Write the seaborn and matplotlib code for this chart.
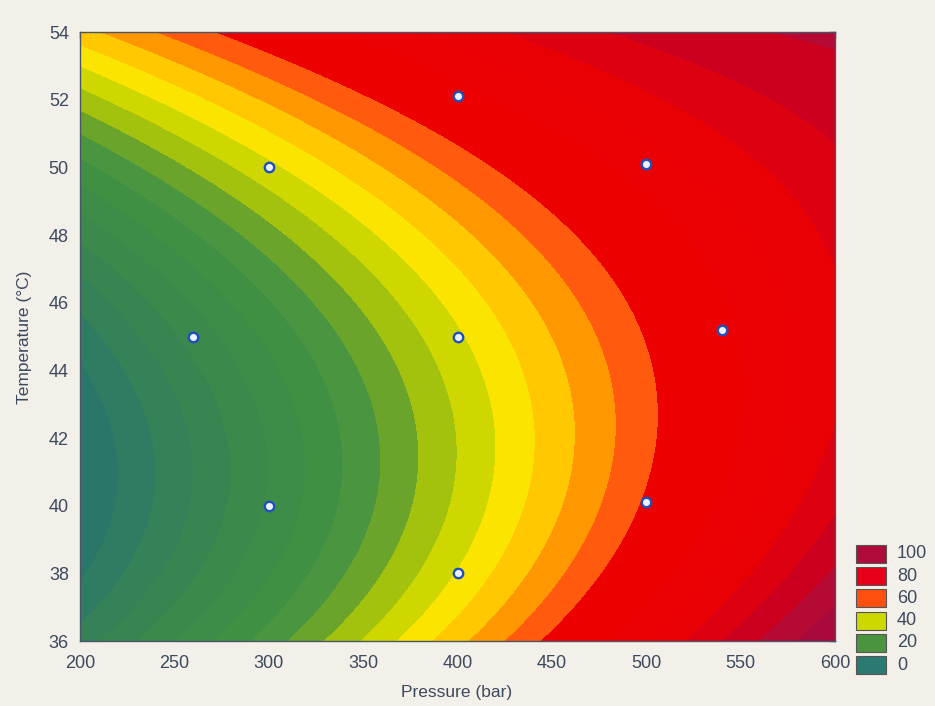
import numpy as np
import matplotlib
matplotlib.use("Agg")
import matplotlib.pyplot as plt
from matplotlib.patches import Rectangle
import seaborn as sns

sns.set_style("white")
plt.rcParams["font.family"] = ["Liberation Sans", "DejaVu Sans"]

# experimental design points (pressure in bar, temperature in °C)
pressure_pts = [260, 300, 300, 400, 400, 400, 500, 500, 540]
temp_pts = [45.0, 40.0, 50.0, 38.0, 45.0, 52.1, 40.1, 50.1, 45.2]

# fitted response-surface model in coded units
# p = (P - 400) / 200, t = (T - 45) / 9
# terms: 1, p, t, p^2, p*t, t^2, p^3, p^2*t, p*t^2, t^3
model_coef = [44.14, 44.26, 20.65, -3.56, -14.97, 23.64, -0.99, -4.18, -6.86, -6.19]

# contour levels and band colours (under-range first, over-range last)
levels = list(range(-10, 101, 5))
band_colors = ["#24706e", "#2a776a", "#307c62", "#358158", "#388552", "#3b894b",
               "#3d8c47", "#409044", "#4a9540", "#6aa42a", "#a2c20e", "#cfd700",
               "#fbe500", "#ffc800", "#ff9800", "#ff5a0e", "#ec0000", "#ec0000",
               "#ea0002", "#e80004", "#dc0010", "#cc001e", "#b40a34", "#a80a3c"]

# legend entries
legend_vals = [100, 80, 60, 40, 20, 0]
legend_colors = ["#b00a3a", "#e8001a", "#ff5010", "#ccd800", "#4a9440", "#2a7a72"]


def basis(P, T):
    p = (np.asarray(P, float) - 400) / 200
    t = (np.asarray(T, float) - 45) / 9
    return np.stack([np.ones_like(p), p, t, p * p, p * t, t * t,
                     p ** 3, p * p * t, p * t * t, t ** 3], axis=-1)


pg = np.linspace(200, 600, 401)
tg = np.linspace(36, 54, 361)
PP, TT = np.meshgrid(pg, tg)
Z = basis(PP, TT) @ np.asarray(model_coef)

fig = plt.figure(figsize=(9.35, 7.06), dpi=100, facecolor="#f3f0ea")
ax = fig.add_axes([80 / 935, 1 - 641 / 706, 755 / 935, 609 / 706])
ax.contourf(PP, TT, Z, levels=levels, colors=band_colors, extend="both")
sns.scatterplot(x=pressure_pts, y=temp_pts, ax=ax, s=46, color="#eef3ff",
                edgecolor="#1f50c0", linewidth=1.7, zorder=5, legend=False)

ax.set_xlim(200, 600)
ax.set_ylim(36, 54)
ax.set_xticks(np.arange(200, 601, 50))
ax.set_yticks(np.arange(36, 55, 2))
txt = "#3c4a5e"
ax.tick_params(direction="in", length=4, width=1, top=True, right=True,
               labelsize=13, colors=txt)
ax.tick_params(axis="x", pad=10)
ax.tick_params(axis="y", pad=8)
for s in ax.spines.values():
    s.set_color("#4a5568")
    s.set_linewidth(1)

fig.text(457 / 935, 1 - 693 / 706, "Pressure (bar)", ha="center", va="center",
         fontsize=12.5, color=txt)
fig.text(25 / 935, 1 - 337 / 706, "Temperature (°C)", ha="center", va="center",
         rotation=90, fontsize=12.5, color=txt)

for i, (v, c) in enumerate(zip(legend_vals, legend_colors)):
    y0 = 545 + i * 22.2
    fig.patches.append(Rectangle((856 / 935, 1 - (y0 + 18) / 706), 30 / 935, 18 / 706,
                                 transform=fig.transFigure, facecolor=c,
                                 edgecolor="#555555", linewidth=0.8))
    fig.text(897 / 935, 1 - (y0 + 9) / 706, str(v), ha="left", va="center",
             fontsize=13, color=txt)

fig.savefig("out.png", dpi=100, facecolor=fig.get_facecolor())
